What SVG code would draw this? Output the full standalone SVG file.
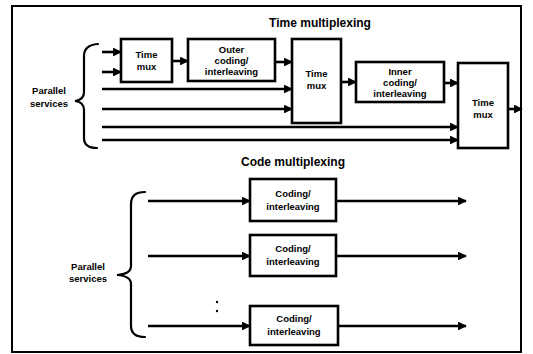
<svg xmlns="http://www.w3.org/2000/svg" width="533" height="354" viewBox="0 0 533 354">
<defs>
<style>
.box{fill:#fff;stroke:#000;stroke-width:2.6}
.ln{fill:none;stroke:#000;stroke-width:2.6}
.br{fill:none;stroke:#000;stroke-width:2.2;stroke-linecap:round}
.t{font-family:"Liberation Sans",Arial,sans-serif;font-weight:bold;font-size:9.5px;text-anchor:middle;fill:#000}
.h{font-family:"Liberation Sans",Arial,sans-serif;font-weight:bold;font-size:12px;text-anchor:middle;fill:#000}
</style>
<marker id="a" viewBox="0 0 10 10" refX="9" refY="5" markerWidth="3.4" markerHeight="3.4" orient="auto" markerUnits="strokeWidth">
<path d="M0,0 L10,5 L0,10 z" fill="#000"/>
</marker>
</defs>
<rect x="12" y="6" width="509" height="346" fill="#fff" stroke="#000" stroke-width="2"/>
<text class="h" x="320" y="27">Time multiplexing</text>
<text class="h" x="293" y="166">Code multiplexing</text>
<g id="connectors">
<path class="ln" marker-end="url(#a)" d="M102,52 H121"/>
<path class="ln" marker-end="url(#a)" d="M102,72 H121"/>
<path class="ln" marker-end="url(#a)" d="M172,61 H188"/>
<path class="ln" marker-end="url(#a)" d="M275,62 H292"/>
<path class="ln" marker-end="url(#a)" d="M102,89 H292"/>
<path class="ln" marker-end="url(#a)" d="M102,109 H292"/>
<path class="ln" marker-end="url(#a)" d="M341,82 H356"/>
<path class="ln" marker-end="url(#a)" d="M444,83 H458"/>
<path class="ln" marker-end="url(#a)" d="M102,127 H458"/>
<path class="ln" marker-end="url(#a)" d="M102,140 H458"/>
<path class="ln" marker-end="url(#a)" d="M508,109 H522"/>
<path class="ln" marker-end="url(#a)" d="M148,201 H250"/>
<path class="ln" marker-end="url(#a)" d="M148,256 H250"/>
<path class="ln" marker-end="url(#a)" d="M148,326 H250"/>
<path class="ln" marker-end="url(#a)" d="M336,201 H466"/>
<path class="ln" marker-end="url(#a)" d="M336,256 H466"/>
<path class="ln" marker-end="url(#a)" d="M338,326 H466"/>
<circle cx="217" cy="302" r="1.2" fill="#000"/>
<circle cx="217" cy="311" r="1.2" fill="#000"/>
</g>
<g id="brace-top">
<path class="br" d="M98,44 Q84,45 84,56 V92 Q84,100 75,101 Q84,102 84,110 V138 Q84,148 97,148"/>
<text class="t" x="49" y="94">Parallel</text>
<text class="t" x="49" y="107">services</text>
</g>
<g id="brace-bottom">
<path class="br" d="M145,192 Q131,192 131,204 V266 Q131,274 117,275 Q131,276 131,284 V326 Q131,337 145,337"/>
<text class="t" x="88" y="270">Parallel</text>
<text class="t" x="88" y="282">services</text>
</g>
<g id="tmux1">
<rect class="box" x="121" y="39" width="51" height="43"/>
<text class="t" x="146.5" y="58">Time</text>
<text class="t" x="146.5" y="70">mux</text>
</g>
<g id="outer">
<rect class="box" x="188" y="39" width="87" height="42"/>
<text class="t" x="231.5" y="53">Outer</text>
<text class="t" x="231.5" y="64">coding/</text>
<text class="t" x="231.5" y="75">interleaving</text>
</g>
<g id="tmux2">
<rect class="box" x="292" y="39" width="49" height="84"/>
<text class="t" x="316.5" y="77">Time</text>
<text class="t" x="316.5" y="89">mux</text>
</g>
<g id="inner">
<rect class="box" x="356" y="62" width="88" height="40"/>
<text class="t" x="400" y="75">Inner</text>
<text class="t" x="400" y="86">coding/</text>
<text class="t" x="400" y="97">interleaving</text>
</g>
<g id="tmux3">
<rect class="box" x="458" y="63" width="50" height="85"/>
<text class="t" x="483" y="106">Time</text>
<text class="t" x="483" y="118">mux</text>
</g>
<g id="code1">
<rect class="box" x="250" y="179" width="86" height="42"/>
<text class="t" x="293" y="197">Coding/</text>
<text class="t" x="293" y="210">interleaving</text>
</g>
<g id="code2">
<rect class="box" x="250" y="235" width="86" height="41"/>
<text class="t" x="293" y="252">Coding/</text>
<text class="t" x="293" y="265">interleaving</text>
</g>
<g id="code3">
<rect class="box" x="250" y="306" width="88" height="39"/>
<text class="t" x="294" y="322">Coding/</text>
<text class="t" x="294" y="335">interleaving</text>
</g>
</svg>
